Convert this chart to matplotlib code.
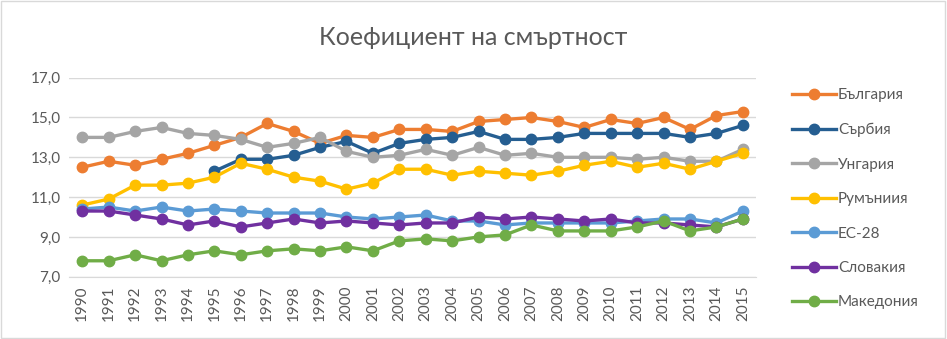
import numpy as np
import matplotlib.pyplot as plt

plt.rcParams['font.family'] = ['Lato', 'Open Sans', 'DejaVu Sans']

years = list(range(1990, 2016))
bulgaria = [12.5, 12.8, 12.6, 12.9, 13.2, 13.6, 14.0, 14.7, 14.3, 13.7, 14.1, 14.0, 14.4,
            14.4, 14.3, 14.8, 14.9, 15.0, 14.8, 14.5, 14.9, 14.7, 15.0, 14.4, 15.1, 15.3]
serbia = [np.nan] * 5 + [12.3, 12.9, 12.9, 13.1, 13.5, 13.8, 13.2, 13.7,
                         13.9, 14.0, 14.3, 13.9, 13.9, 14.0, 14.2, 14.2, 14.2, 14.2, 14.0, 14.2, 14.6]
hungary = [14.0, 14.0, 14.3, 14.5, 14.2, 14.1, 13.9, 13.5, 13.7, 14.0, 13.3, 13.0, 13.1,
           13.4, 13.1, 13.5, 13.1, 13.2, 13.0, 13.0, 13.0, 12.9, 13.0, 12.8, 12.8, 13.4]
romania = [10.6, 10.9, 11.6, 11.6, 11.7, 12.0, 12.7, 12.4, 12.0, 11.8, 11.4, 11.7, 12.4,
           12.4, 12.1, 12.3, 12.2, 12.1, 12.3, 12.6, 12.8, 12.5, 12.7, 12.4, 12.8, 13.2]
eu28 = [10.4, 10.5, 10.3, 10.5, 10.3, 10.4, 10.3, 10.2, 10.2, 10.2, 10.0, 9.9, 10.0,
        10.1, 9.8, 9.8, 9.6, 9.7, 9.7, 9.7, 9.7, 9.8, 9.9, 9.9, 9.7, 10.3]
slovakia = [10.3, 10.3, 10.1, 9.9, 9.6, 9.8, 9.5, 9.7, 9.9, 9.7, 9.8, 9.7, 9.6,
            9.7, 9.7, 10.0, 9.9, 10.0, 9.9, 9.8, 9.9, 9.7, 9.7, 9.6, 9.5, 9.9]
macedonia = [7.8, 7.8, 8.1, 7.8, 8.1, 8.3, 8.1, 8.3, 8.4, 8.3, 8.5, 8.3, 8.8,
             8.9, 8.8, 9.0, 9.1, 9.6, 9.3, 9.3, 9.3, 9.5, 9.8, 9.3, 9.5, 9.9]

series = [
    ('България', bulgaria, '#ED7D31'),
    ('Сърбия', serbia, '#255E91'),
    ('Унгария', hungary, '#A5A5A5'),
    ('Румъниия', romania, '#FFC000'),
    ('ЕС-28', eu28, '#5B9BD5'),
    ('Словакия', slovakia, '#7030A0'),
    ('Македония', macedonia, '#70AD47'),
]
yticks = [7.0, 9.0, 11.0, 13.0, 15.0, 17.0]
txt = '#595959'

fig = plt.figure(figsize=(9.47, 3.39), dpi=100)
ax = fig.add_axes([0.0729, 0.1838, 0.7255, 0.587])

x = np.arange(len(years))
for name, vals, col in series:
    ax.plot(x, vals, color=col, linewidth=2.4, marker='o', markersize=7.5, label=name)

ax.set_xlim(-0.5, len(years) - 0.5)
ax.set_ylim(7, 17)
ax.set_yticks(yticks)
ax.set_yticklabels([('%.1f' % v).replace('.', ',') for v in yticks], fontsize=11, color=txt)
ax.set_xticks(x)
ax.set_xticklabels(years, rotation=90, fontsize=11, color=txt)
ax.tick_params(length=0, pad=6)
ax.grid(axis='y', color='#D9D9D9', linewidth=1)
ax.set_axisbelow(True)
for s in ['top', 'right', 'left']:
    ax.spines[s].set_visible(False)
ax.spines['bottom'].set_color('#D9D9D9')

fig.text(0.5, 0.89, 'Коефициент на смъртност', ha='center', va='center', fontsize=18, color=txt)

fig.legend(loc='upper left', bbox_to_anchor=(0.822, 0.78), frameon=False, fontsize=11,
           handlelength=2.9, labelspacing=1.34, handletextpad=0.1, labelcolor=txt)

# light border around the chart
fig.patches.append(plt.Rectangle((0.001, 0.002), 0.997, 0.995, transform=fig.transFigure,
                                 fill=False, edgecolor='#D9D9D9', linewidth=1))

fig.savefig('out.png', dpi=100)
